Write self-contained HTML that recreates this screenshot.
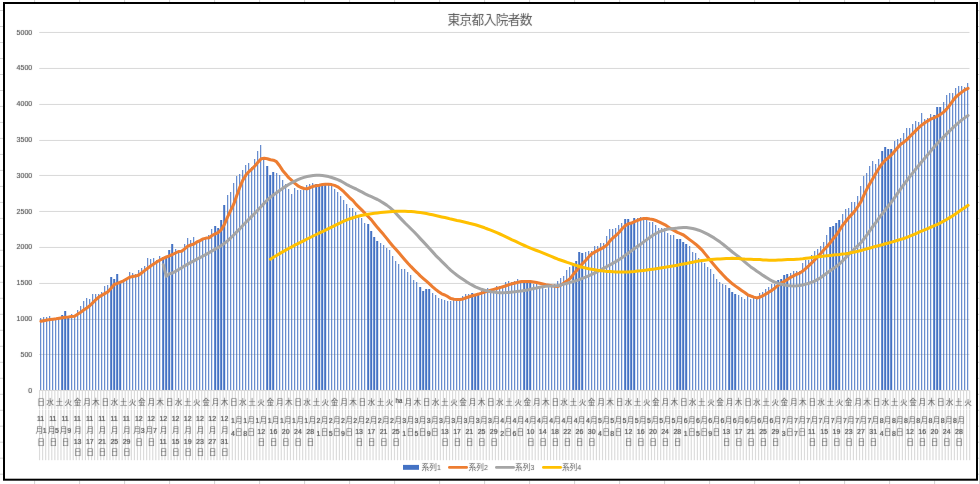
<!DOCTYPE html>
<html lang="ja"><head><meta charset="utf-8"><title>東京都入院者数</title>
<style>html,body{margin:0;padding:0;background:#fff;overflow:hidden}svg{display:block}text{font-family:"Liberation Sans","Noto Sans CJK JP",sans-serif}</style>
</head><body>
<svg width="980" height="484" viewBox="0 0 980 484" role="img" aria-label="東京都入院者数">
<desc>東京都入院者数 — 2020年11月1日〜2021年8月31日。凡例: 系列1 (棒), 系列2, 系列3, 系列4 (折れ線)。縦軸 0〜5000。</desc>
<defs><filter id="bl" filterUnits="userSpaceOnUse" x="0" y="0" width="980" height="484"><feConvolveMatrix order="3" kernelMatrix="0.0025 0.0450 0.0025 0.0450 0.8100 0.0450 0.0025 0.0450 0.0025" edgeMode="duplicate" preserveAlpha="false"/></filter></defs>
<g fill="#d2d2d2"><rect x="34.1" y="0" width="1" height="2.3"/><rect x="34.1" y="480.5" width="1" height="3.5"/><rect x="79.1" y="0" width="1" height="2.3"/><rect x="79.1" y="480.5" width="1" height="3.5"/><rect x="124.1" y="0" width="1" height="2.3"/><rect x="124.1" y="480.5" width="1" height="3.5"/><rect x="169.1" y="0" width="1" height="2.3"/><rect x="169.1" y="480.5" width="1" height="3.5"/><rect x="214.1" y="0" width="1" height="2.3"/><rect x="214.1" y="480.5" width="1" height="3.5"/><rect x="259.1" y="0" width="1" height="2.3"/><rect x="259.1" y="480.5" width="1" height="3.5"/><rect x="304.1" y="0" width="1" height="2.3"/><rect x="304.1" y="480.5" width="1" height="3.5"/><rect x="349.1" y="0" width="1" height="2.3"/><rect x="349.1" y="480.5" width="1" height="3.5"/><rect x="394.1" y="0" width="1" height="2.3"/><rect x="394.1" y="480.5" width="1" height="3.5"/><rect x="439.1" y="0" width="1" height="2.3"/><rect x="439.1" y="480.5" width="1" height="3.5"/><rect x="484.1" y="0" width="1" height="2.3"/><rect x="484.1" y="480.5" width="1" height="3.5"/><rect x="529.1" y="0" width="1" height="2.3"/><rect x="529.1" y="480.5" width="1" height="3.5"/><rect x="574.1" y="0" width="1" height="2.3"/><rect x="574.1" y="480.5" width="1" height="3.5"/><rect x="619.1" y="0" width="1" height="2.3"/><rect x="619.1" y="480.5" width="1" height="3.5"/><rect x="664.1" y="0" width="1" height="2.3"/><rect x="664.1" y="480.5" width="1" height="3.5"/><rect x="709.1" y="0" width="1" height="2.3"/><rect x="709.1" y="480.5" width="1" height="3.5"/><rect x="754.1" y="0" width="1" height="2.3"/><rect x="754.1" y="480.5" width="1" height="3.5"/><rect x="799.1" y="0" width="1" height="2.3"/><rect x="799.1" y="480.5" width="1" height="3.5"/><rect x="844.1" y="0" width="1" height="2.3"/><rect x="844.1" y="480.5" width="1" height="3.5"/><rect x="889.1" y="0" width="1" height="2.3"/><rect x="889.1" y="480.5" width="1" height="3.5"/><rect x="934.1" y="0" width="1" height="2.3"/><rect x="934.1" y="480.5" width="1" height="3.5"/><rect x="979.1" y="0" width="1" height="2.3"/><rect x="979.1" y="480.5" width="1" height="3.5"/><rect x="0" y="10.0" width="3.2" height="1"/><rect x="977.8" y="10.0" width="2.2" height="1"/><rect x="0" y="26.0" width="3.2" height="1"/><rect x="977.8" y="26.0" width="2.2" height="1"/><rect x="0" y="42.0" width="3.2" height="1"/><rect x="977.8" y="42.0" width="2.2" height="1"/><rect x="0" y="58.0" width="3.2" height="1"/><rect x="977.8" y="58.0" width="2.2" height="1"/><rect x="0" y="74.0" width="3.2" height="1"/><rect x="977.8" y="74.0" width="2.2" height="1"/><rect x="0" y="90.0" width="3.2" height="1"/><rect x="977.8" y="90.0" width="2.2" height="1"/><rect x="0" y="105.9" width="3.2" height="1"/><rect x="977.8" y="105.9" width="2.2" height="1"/><rect x="0" y="121.9" width="3.2" height="1"/><rect x="977.8" y="121.9" width="2.2" height="1"/><rect x="0" y="137.9" width="3.2" height="1"/><rect x="977.8" y="137.9" width="2.2" height="1"/><rect x="0" y="153.9" width="3.2" height="1"/><rect x="977.8" y="153.9" width="2.2" height="1"/><rect x="0" y="169.9" width="3.2" height="1"/><rect x="977.8" y="169.9" width="2.2" height="1"/><rect x="0" y="185.9" width="3.2" height="1"/><rect x="977.8" y="185.9" width="2.2" height="1"/><rect x="0" y="201.9" width="3.2" height="1"/><rect x="977.8" y="201.9" width="2.2" height="1"/><rect x="0" y="217.9" width="3.2" height="1"/><rect x="977.8" y="217.9" width="2.2" height="1"/><rect x="0" y="233.9" width="3.2" height="1"/><rect x="977.8" y="233.9" width="2.2" height="1"/><rect x="0" y="249.8" width="3.2" height="1"/><rect x="977.8" y="249.8" width="2.2" height="1"/><rect x="0" y="265.8" width="3.2" height="1"/><rect x="977.8" y="265.8" width="2.2" height="1"/><rect x="0" y="281.8" width="3.2" height="1"/><rect x="977.8" y="281.8" width="2.2" height="1"/><rect x="0" y="297.8" width="3.2" height="1"/><rect x="977.8" y="297.8" width="2.2" height="1"/><rect x="0" y="313.8" width="3.2" height="1"/><rect x="977.8" y="313.8" width="2.2" height="1"/><rect x="0" y="329.8" width="3.2" height="1"/><rect x="977.8" y="329.8" width="2.2" height="1"/><rect x="0" y="345.8" width="3.2" height="1"/><rect x="977.8" y="345.8" width="2.2" height="1"/><rect x="0" y="361.8" width="3.2" height="1"/><rect x="977.8" y="361.8" width="2.2" height="1"/><rect x="0" y="377.8" width="3.2" height="1"/><rect x="977.8" y="377.8" width="2.2" height="1"/><rect x="0" y="393.8" width="3.2" height="1"/><rect x="977.8" y="393.8" width="2.2" height="1"/><rect x="0" y="409.8" width="3.2" height="1"/><rect x="977.8" y="409.8" width="2.2" height="1"/><rect x="0" y="425.7" width="3.2" height="1"/><rect x="977.8" y="425.7" width="2.2" height="1"/><rect x="0" y="441.7" width="3.2" height="1"/><rect x="977.8" y="441.7" width="2.2" height="1"/><rect x="0" y="457.7" width="3.2" height="1"/><rect x="977.8" y="457.7" width="2.2" height="1"/><rect x="0" y="473.7" width="3.2" height="1"/><rect x="977.8" y="473.7" width="2.2" height="1"/><rect x="979.1" y="0" width="1" height="484"/></g>
<rect x="4" y="3" width="973" height="476.7" fill="#fff" stroke="#000" stroke-width="2"/>
<g fill="#d9d9d9"><rect x="39.2" y="31.95" width="930.3" height="1"/><rect x="39.2" y="67.95" width="930.3" height="1"/><rect x="39.2" y="103.95" width="930.3" height="1"/><rect x="39.2" y="139.95" width="930.3" height="1"/><rect x="39.2" y="174.95" width="930.3" height="1"/><rect x="39.2" y="210.95" width="930.3" height="1"/><rect x="39.2" y="246.95" width="930.3" height="1"/><rect x="39.2" y="282.95" width="930.3" height="1"/><rect x="39.2" y="318.95" width="930.3" height="1"/><rect x="39.2" y="353.95" width="930.3" height="1"/></g>
<g fill="#dbdbdb"><rect x="38.97" y="390.6" width="1.16" height="69.6"/><rect x="42.03" y="390.6" width="1.16" height="69.6"/><rect x="45.09" y="390.6" width="1.16" height="69.6"/><rect x="48.15" y="390.6" width="1.16" height="69.6"/><rect x="51.21" y="390.6" width="1.16" height="69.6"/><rect x="54.27" y="390.6" width="1.16" height="69.6"/><rect x="57.33" y="390.6" width="1.16" height="69.6"/><rect x="60.39" y="390.6" width="1.16" height="69.6"/><rect x="63.45" y="390.6" width="1.16" height="69.6"/><rect x="66.51" y="390.6" width="1.16" height="69.6"/><rect x="69.57" y="390.6" width="1.16" height="69.6"/><rect x="72.63" y="390.6" width="1.16" height="69.6"/><rect x="75.69" y="390.6" width="1.16" height="69.6"/><rect x="78.75" y="390.6" width="1.16" height="69.6"/><rect x="81.81" y="390.6" width="1.16" height="69.6"/><rect x="84.86" y="390.6" width="1.16" height="69.6"/><rect x="87.92" y="390.6" width="1.16" height="69.6"/><rect x="90.98" y="390.6" width="1.16" height="69.6"/><rect x="94.04" y="390.6" width="1.16" height="69.6"/><rect x="97.10" y="390.6" width="1.16" height="69.6"/><rect x="100.16" y="390.6" width="1.16" height="69.6"/><rect x="103.22" y="390.6" width="1.16" height="69.6"/><rect x="106.28" y="390.6" width="1.16" height="69.6"/><rect x="109.34" y="390.6" width="1.16" height="69.6"/><rect x="112.40" y="390.6" width="1.16" height="69.6"/><rect x="115.46" y="390.6" width="1.16" height="69.6"/><rect x="118.52" y="390.6" width="1.16" height="69.6"/><rect x="121.58" y="390.6" width="1.16" height="69.6"/><rect x="124.64" y="390.6" width="1.16" height="69.6"/><rect x="127.70" y="390.6" width="1.16" height="69.6"/><rect x="130.76" y="390.6" width="1.16" height="69.6"/><rect x="133.82" y="390.6" width="1.16" height="69.6"/><rect x="136.88" y="390.6" width="1.16" height="69.6"/><rect x="139.94" y="390.6" width="1.16" height="69.6"/><rect x="143.00" y="390.6" width="1.16" height="69.6"/><rect x="146.06" y="390.6" width="1.16" height="69.6"/><rect x="149.12" y="390.6" width="1.16" height="69.6"/><rect x="152.18" y="390.6" width="1.16" height="69.6"/><rect x="155.24" y="390.6" width="1.16" height="69.6"/><rect x="158.30" y="390.6" width="1.16" height="69.6"/><rect x="161.36" y="390.6" width="1.16" height="69.6"/><rect x="164.42" y="390.6" width="1.16" height="69.6"/><rect x="167.48" y="390.6" width="1.16" height="69.6"/><rect x="170.53" y="390.6" width="1.16" height="69.6"/><rect x="173.59" y="390.6" width="1.16" height="69.6"/><rect x="176.65" y="390.6" width="1.16" height="69.6"/><rect x="179.71" y="390.6" width="1.16" height="69.6"/><rect x="182.77" y="390.6" width="1.16" height="69.6"/><rect x="185.83" y="390.6" width="1.16" height="69.6"/><rect x="188.89" y="390.6" width="1.16" height="69.6"/><rect x="191.95" y="390.6" width="1.16" height="69.6"/><rect x="195.01" y="390.6" width="1.16" height="69.6"/><rect x="198.07" y="390.6" width="1.16" height="69.6"/><rect x="201.13" y="390.6" width="1.16" height="69.6"/><rect x="204.19" y="390.6" width="1.16" height="69.6"/><rect x="207.25" y="390.6" width="1.16" height="69.6"/><rect x="210.31" y="390.6" width="1.16" height="69.6"/><rect x="213.37" y="390.6" width="1.16" height="69.6"/><rect x="216.43" y="390.6" width="1.16" height="69.6"/><rect x="219.49" y="390.6" width="1.16" height="69.6"/><rect x="222.55" y="390.6" width="1.16" height="69.6"/><rect x="225.61" y="390.6" width="1.16" height="69.6"/><rect x="228.67" y="390.6" width="1.16" height="69.6"/><rect x="231.73" y="390.6" width="1.16" height="69.6"/><rect x="234.79" y="390.6" width="1.16" height="69.6"/><rect x="237.85" y="390.6" width="1.16" height="69.6"/><rect x="240.91" y="390.6" width="1.16" height="69.6"/><rect x="243.97" y="390.6" width="1.16" height="69.6"/><rect x="247.03" y="390.6" width="1.16" height="69.6"/><rect x="250.09" y="390.6" width="1.16" height="69.6"/><rect x="253.15" y="390.6" width="1.16" height="69.6"/><rect x="256.21" y="390.6" width="1.16" height="69.6"/><rect x="259.26" y="390.6" width="1.16" height="69.6"/><rect x="262.32" y="390.6" width="1.16" height="69.6"/><rect x="265.38" y="390.6" width="1.16" height="69.6"/><rect x="268.44" y="390.6" width="1.16" height="69.6"/><rect x="271.50" y="390.6" width="1.16" height="69.6"/><rect x="274.56" y="390.6" width="1.16" height="69.6"/><rect x="277.62" y="390.6" width="1.16" height="69.6"/><rect x="280.68" y="390.6" width="1.16" height="69.6"/><rect x="283.74" y="390.6" width="1.16" height="69.6"/><rect x="286.80" y="390.6" width="1.16" height="69.6"/><rect x="289.86" y="390.6" width="1.16" height="69.6"/><rect x="292.92" y="390.6" width="1.16" height="69.6"/><rect x="295.98" y="390.6" width="1.16" height="69.6"/><rect x="299.04" y="390.6" width="1.16" height="69.6"/><rect x="302.10" y="390.6" width="1.16" height="69.6"/><rect x="305.16" y="390.6" width="1.16" height="69.6"/><rect x="308.22" y="390.6" width="1.16" height="69.6"/><rect x="311.28" y="390.6" width="1.16" height="69.6"/><rect x="314.34" y="390.6" width="1.16" height="69.6"/><rect x="317.40" y="390.6" width="1.16" height="69.6"/><rect x="320.46" y="390.6" width="1.16" height="69.6"/><rect x="323.52" y="390.6" width="1.16" height="69.6"/><rect x="326.58" y="390.6" width="1.16" height="69.6"/><rect x="329.64" y="390.6" width="1.16" height="69.6"/><rect x="332.70" y="390.6" width="1.16" height="69.6"/><rect x="335.76" y="390.6" width="1.16" height="69.6"/><rect x="338.82" y="390.6" width="1.16" height="69.6"/><rect x="341.88" y="390.6" width="1.16" height="69.6"/><rect x="344.94" y="390.6" width="1.16" height="69.6"/><rect x="347.99" y="390.6" width="1.16" height="69.6"/><rect x="351.05" y="390.6" width="1.16" height="69.6"/><rect x="354.11" y="390.6" width="1.16" height="69.6"/><rect x="357.17" y="390.6" width="1.16" height="69.6"/><rect x="360.23" y="390.6" width="1.16" height="69.6"/><rect x="363.29" y="390.6" width="1.16" height="69.6"/><rect x="366.35" y="390.6" width="1.16" height="69.6"/><rect x="369.41" y="390.6" width="1.16" height="69.6"/><rect x="372.47" y="390.6" width="1.16" height="69.6"/><rect x="375.53" y="390.6" width="1.16" height="69.6"/><rect x="378.59" y="390.6" width="1.16" height="69.6"/><rect x="381.65" y="390.6" width="1.16" height="69.6"/><rect x="384.71" y="390.6" width="1.16" height="69.6"/><rect x="387.77" y="390.6" width="1.16" height="69.6"/><rect x="390.83" y="390.6" width="1.16" height="69.6"/><rect x="393.89" y="390.6" width="1.16" height="69.6"/><rect x="396.95" y="390.6" width="1.16" height="69.6"/><rect x="400.01" y="390.6" width="1.16" height="69.6"/><rect x="403.07" y="390.6" width="1.16" height="69.6"/><rect x="406.13" y="390.6" width="1.16" height="69.6"/><rect x="409.19" y="390.6" width="1.16" height="69.6"/><rect x="412.25" y="390.6" width="1.16" height="69.6"/><rect x="415.31" y="390.6" width="1.16" height="69.6"/><rect x="418.37" y="390.6" width="1.16" height="69.6"/><rect x="421.43" y="390.6" width="1.16" height="69.6"/><rect x="424.49" y="390.6" width="1.16" height="69.6"/><rect x="427.55" y="390.6" width="1.16" height="69.6"/><rect x="430.61" y="390.6" width="1.16" height="69.6"/><rect x="433.66" y="390.6" width="1.16" height="69.6"/><rect x="436.72" y="390.6" width="1.16" height="69.6"/><rect x="439.78" y="390.6" width="1.16" height="69.6"/><rect x="442.84" y="390.6" width="1.16" height="69.6"/><rect x="445.90" y="390.6" width="1.16" height="69.6"/><rect x="448.96" y="390.6" width="1.16" height="69.6"/><rect x="452.02" y="390.6" width="1.16" height="69.6"/><rect x="455.08" y="390.6" width="1.16" height="69.6"/><rect x="458.14" y="390.6" width="1.16" height="69.6"/><rect x="461.20" y="390.6" width="1.16" height="69.6"/><rect x="464.26" y="390.6" width="1.16" height="69.6"/><rect x="467.32" y="390.6" width="1.16" height="69.6"/><rect x="470.38" y="390.6" width="1.16" height="69.6"/><rect x="473.44" y="390.6" width="1.16" height="69.6"/><rect x="476.50" y="390.6" width="1.16" height="69.6"/><rect x="479.56" y="390.6" width="1.16" height="69.6"/><rect x="482.62" y="390.6" width="1.16" height="69.6"/><rect x="485.68" y="390.6" width="1.16" height="69.6"/><rect x="488.74" y="390.6" width="1.16" height="69.6"/><rect x="491.80" y="390.6" width="1.16" height="69.6"/><rect x="494.86" y="390.6" width="1.16" height="69.6"/><rect x="497.92" y="390.6" width="1.16" height="69.6"/><rect x="500.98" y="390.6" width="1.16" height="69.6"/><rect x="504.04" y="390.6" width="1.16" height="69.6"/><rect x="507.10" y="390.6" width="1.16" height="69.6"/><rect x="510.16" y="390.6" width="1.16" height="69.6"/><rect x="513.22" y="390.6" width="1.16" height="69.6"/><rect x="516.28" y="390.6" width="1.16" height="69.6"/><rect x="519.34" y="390.6" width="1.16" height="69.6"/><rect x="522.39" y="390.6" width="1.16" height="69.6"/><rect x="525.45" y="390.6" width="1.16" height="69.6"/><rect x="528.51" y="390.6" width="1.16" height="69.6"/><rect x="531.57" y="390.6" width="1.16" height="69.6"/><rect x="534.63" y="390.6" width="1.16" height="69.6"/><rect x="537.69" y="390.6" width="1.16" height="69.6"/><rect x="540.75" y="390.6" width="1.16" height="69.6"/><rect x="543.81" y="390.6" width="1.16" height="69.6"/><rect x="546.87" y="390.6" width="1.16" height="69.6"/><rect x="549.93" y="390.6" width="1.16" height="69.6"/><rect x="552.99" y="390.6" width="1.16" height="69.6"/><rect x="556.05" y="390.6" width="1.16" height="69.6"/><rect x="559.11" y="390.6" width="1.16" height="69.6"/><rect x="562.17" y="390.6" width="1.16" height="69.6"/><rect x="565.23" y="390.6" width="1.16" height="69.6"/><rect x="568.29" y="390.6" width="1.16" height="69.6"/><rect x="571.35" y="390.6" width="1.16" height="69.6"/><rect x="574.41" y="390.6" width="1.16" height="69.6"/><rect x="577.47" y="390.6" width="1.16" height="69.6"/><rect x="580.53" y="390.6" width="1.16" height="69.6"/><rect x="583.59" y="390.6" width="1.16" height="69.6"/><rect x="586.65" y="390.6" width="1.16" height="69.6"/><rect x="589.71" y="390.6" width="1.16" height="69.6"/><rect x="592.77" y="390.6" width="1.16" height="69.6"/><rect x="595.83" y="390.6" width="1.16" height="69.6"/><rect x="598.89" y="390.6" width="1.16" height="69.6"/><rect x="601.95" y="390.6" width="1.16" height="69.6"/><rect x="605.01" y="390.6" width="1.16" height="69.6"/><rect x="608.06" y="390.6" width="1.16" height="69.6"/><rect x="611.12" y="390.6" width="1.16" height="69.6"/><rect x="614.18" y="390.6" width="1.16" height="69.6"/><rect x="617.24" y="390.6" width="1.16" height="69.6"/><rect x="620.30" y="390.6" width="1.16" height="69.6"/><rect x="623.36" y="390.6" width="1.16" height="69.6"/><rect x="626.42" y="390.6" width="1.16" height="69.6"/><rect x="629.48" y="390.6" width="1.16" height="69.6"/><rect x="632.54" y="390.6" width="1.16" height="69.6"/><rect x="635.60" y="390.6" width="1.16" height="69.6"/><rect x="638.66" y="390.6" width="1.16" height="69.6"/><rect x="641.72" y="390.6" width="1.16" height="69.6"/><rect x="644.78" y="390.6" width="1.16" height="69.6"/><rect x="647.84" y="390.6" width="1.16" height="69.6"/><rect x="650.90" y="390.6" width="1.16" height="69.6"/><rect x="653.96" y="390.6" width="1.16" height="69.6"/><rect x="657.02" y="390.6" width="1.16" height="69.6"/><rect x="660.08" y="390.6" width="1.16" height="69.6"/><rect x="663.14" y="390.6" width="1.16" height="69.6"/><rect x="666.20" y="390.6" width="1.16" height="69.6"/><rect x="669.26" y="390.6" width="1.16" height="69.6"/><rect x="672.32" y="390.6" width="1.16" height="69.6"/><rect x="675.38" y="390.6" width="1.16" height="69.6"/><rect x="678.44" y="390.6" width="1.16" height="69.6"/><rect x="681.50" y="390.6" width="1.16" height="69.6"/><rect x="684.56" y="390.6" width="1.16" height="69.6"/><rect x="687.62" y="390.6" width="1.16" height="69.6"/><rect x="690.68" y="390.6" width="1.16" height="69.6"/><rect x="693.74" y="390.6" width="1.16" height="69.6"/><rect x="696.79" y="390.6" width="1.16" height="69.6"/><rect x="699.85" y="390.6" width="1.16" height="69.6"/><rect x="702.91" y="390.6" width="1.16" height="69.6"/><rect x="705.97" y="390.6" width="1.16" height="69.6"/><rect x="709.03" y="390.6" width="1.16" height="69.6"/><rect x="712.09" y="390.6" width="1.16" height="69.6"/><rect x="715.15" y="390.6" width="1.16" height="69.6"/><rect x="718.21" y="390.6" width="1.16" height="69.6"/><rect x="721.27" y="390.6" width="1.16" height="69.6"/><rect x="724.33" y="390.6" width="1.16" height="69.6"/><rect x="727.39" y="390.6" width="1.16" height="69.6"/><rect x="730.45" y="390.6" width="1.16" height="69.6"/><rect x="733.51" y="390.6" width="1.16" height="69.6"/><rect x="736.57" y="390.6" width="1.16" height="69.6"/><rect x="739.63" y="390.6" width="1.16" height="69.6"/><rect x="742.69" y="390.6" width="1.16" height="69.6"/><rect x="745.75" y="390.6" width="1.16" height="69.6"/><rect x="748.81" y="390.6" width="1.16" height="69.6"/><rect x="751.87" y="390.6" width="1.16" height="69.6"/><rect x="754.93" y="390.6" width="1.16" height="69.6"/><rect x="757.99" y="390.6" width="1.16" height="69.6"/><rect x="761.05" y="390.6" width="1.16" height="69.6"/><rect x="764.11" y="390.6" width="1.16" height="69.6"/><rect x="767.17" y="390.6" width="1.16" height="69.6"/><rect x="770.23" y="390.6" width="1.16" height="69.6"/><rect x="773.29" y="390.6" width="1.16" height="69.6"/><rect x="776.35" y="390.6" width="1.16" height="69.6"/><rect x="779.41" y="390.6" width="1.16" height="69.6"/><rect x="782.46" y="390.6" width="1.16" height="69.6"/><rect x="785.52" y="390.6" width="1.16" height="69.6"/><rect x="788.58" y="390.6" width="1.16" height="69.6"/><rect x="791.64" y="390.6" width="1.16" height="69.6"/><rect x="794.70" y="390.6" width="1.16" height="69.6"/><rect x="797.76" y="390.6" width="1.16" height="69.6"/><rect x="800.82" y="390.6" width="1.16" height="69.6"/><rect x="803.88" y="390.6" width="1.16" height="69.6"/><rect x="806.94" y="390.6" width="1.16" height="69.6"/><rect x="810.00" y="390.6" width="1.16" height="69.6"/><rect x="813.06" y="390.6" width="1.16" height="69.6"/><rect x="816.12" y="390.6" width="1.16" height="69.6"/><rect x="819.18" y="390.6" width="1.16" height="69.6"/><rect x="822.24" y="390.6" width="1.16" height="69.6"/><rect x="825.30" y="390.6" width="1.16" height="69.6"/><rect x="828.36" y="390.6" width="1.16" height="69.6"/><rect x="831.42" y="390.6" width="1.16" height="69.6"/><rect x="834.48" y="390.6" width="1.16" height="69.6"/><rect x="837.54" y="390.6" width="1.16" height="69.6"/><rect x="840.60" y="390.6" width="1.16" height="69.6"/><rect x="843.66" y="390.6" width="1.16" height="69.6"/><rect x="846.72" y="390.6" width="1.16" height="69.6"/><rect x="849.78" y="390.6" width="1.16" height="69.6"/><rect x="852.84" y="390.6" width="1.16" height="69.6"/><rect x="855.90" y="390.6" width="1.16" height="69.6"/><rect x="858.96" y="390.6" width="1.16" height="69.6"/><rect x="862.02" y="390.6" width="1.16" height="69.6"/><rect x="865.08" y="390.6" width="1.16" height="69.6"/><rect x="868.14" y="390.6" width="1.16" height="69.6"/><rect x="871.19" y="390.6" width="1.16" height="69.6"/><rect x="874.25" y="390.6" width="1.16" height="69.6"/><rect x="877.31" y="390.6" width="1.16" height="69.6"/><rect x="880.37" y="390.6" width="1.16" height="69.6"/><rect x="883.43" y="390.6" width="1.16" height="69.6"/><rect x="886.49" y="390.6" width="1.16" height="69.6"/><rect x="889.55" y="390.6" width="1.16" height="69.6"/><rect x="892.61" y="390.6" width="1.16" height="69.6"/><rect x="895.67" y="390.6" width="1.16" height="69.6"/><rect x="898.73" y="390.6" width="1.16" height="69.6"/><rect x="901.79" y="390.6" width="1.16" height="69.6"/><rect x="904.85" y="390.6" width="1.16" height="69.6"/><rect x="907.91" y="390.6" width="1.16" height="69.6"/><rect x="910.97" y="390.6" width="1.16" height="69.6"/><rect x="914.03" y="390.6" width="1.16" height="69.6"/><rect x="917.09" y="390.6" width="1.16" height="69.6"/><rect x="920.15" y="390.6" width="1.16" height="69.6"/><rect x="923.21" y="390.6" width="1.16" height="69.6"/><rect x="926.27" y="390.6" width="1.16" height="69.6"/><rect x="929.33" y="390.6" width="1.16" height="69.6"/><rect x="932.39" y="390.6" width="1.16" height="69.6"/><rect x="935.45" y="390.6" width="1.16" height="69.6"/><rect x="938.51" y="390.6" width="1.16" height="69.6"/><rect x="941.57" y="390.6" width="1.16" height="69.6"/><rect x="944.63" y="390.6" width="1.16" height="69.6"/><rect x="947.69" y="390.6" width="1.16" height="69.6"/><rect x="950.75" y="390.6" width="1.16" height="69.6"/><rect x="953.81" y="390.6" width="1.16" height="69.6"/><rect x="956.86" y="390.6" width="1.16" height="69.6"/><rect x="959.92" y="390.6" width="1.16" height="69.6"/><rect x="962.98" y="390.6" width="1.16" height="69.6"/><rect x="966.04" y="390.6" width="1.16" height="69.6"/><rect x="969.10" y="390.6" width="1.16" height="69.6"/></g>
<rect x="39" y="408.9" width="931" height="0.9" fill="#fff" opacity="0.6"/>
<g fill="#4472c4"><rect x="40.2" y="318" width="1" height="72"/><rect x="43.2" y="317" width="1" height="73"/><rect x="46.2" y="317" width="1" height="73"/><rect x="49.2" y="316" width="1" height="74"/><rect x="52.2" y="319" width="1" height="71"/><rect x="55.2" y="319" width="1" height="71"/><rect x="58.2" y="319" width="1" height="71"/><rect x="61.2" y="315" width="2" height="75"/><rect x="64.2" y="311" width="2" height="79"/><rect x="67.2" y="317" width="2" height="73"/><rect x="71.2" y="314" width="1" height="76"/><rect x="74.2" y="316" width="1" height="74"/><rect x="77.2" y="310" width="1" height="80"/><rect x="80.2" y="306" width="1" height="84"/><rect x="83.2" y="301" width="1" height="89"/><rect x="86.2" y="298" width="1" height="92"/><rect x="89.2" y="299" width="1" height="91"/><rect x="92.2" y="294" width="1" height="96"/><rect x="95.2" y="294" width="1" height="96"/><rect x="98.2" y="294" width="1" height="96"/><rect x="101.2" y="292" width="1" height="98"/><rect x="104.2" y="286" width="1" height="104"/><rect x="107.2" y="285" width="1" height="105"/><rect x="110.2" y="277" width="2" height="113"/><rect x="113.2" y="279" width="2" height="111"/><rect x="116.2" y="274" width="2" height="116"/><rect x="119.2" y="282" width="2" height="108"/><rect x="123.2" y="281" width="1" height="109"/><rect x="126.2" y="279" width="1" height="111"/><rect x="129.2" y="272" width="1" height="118"/><rect x="132.2" y="273" width="1" height="117"/><rect x="135.2" y="274" width="1" height="116"/><rect x="138.2" y="270" width="1" height="120"/><rect x="141.2" y="268" width="1" height="122"/><rect x="144.2" y="266" width="1" height="124"/><rect x="147.2" y="258" width="1" height="132"/><rect x="150.2" y="259" width="1" height="131"/><rect x="153.2" y="258" width="1" height="132"/><rect x="156.2" y="260" width="1" height="130"/><rect x="159.2" y="256" width="1" height="134"/><rect x="162.2" y="257" width="2" height="133"/><rect x="165.2" y="257" width="2" height="133"/><rect x="168.2" y="250" width="2" height="140"/><rect x="171.2" y="244" width="2" height="146"/><rect x="175.2" y="249" width="1" height="141"/><rect x="178.2" y="252" width="1" height="138"/><rect x="181.2" y="251" width="1" height="139"/><rect x="184.2" y="244" width="1" height="146"/><rect x="187.2" y="238" width="1" height="152"/><rect x="190.2" y="240" width="1" height="150"/><rect x="193.2" y="237" width="1" height="153"/><rect x="196.2" y="242" width="1" height="148"/><rect x="199.2" y="241" width="1" height="149"/><rect x="202.2" y="239" width="1" height="151"/><rect x="205.2" y="238" width="1" height="152"/><rect x="208.2" y="235" width="1" height="155"/><rect x="211.2" y="229" width="1" height="161"/><rect x="214.2" y="226" width="2" height="164"/><rect x="217.2" y="228" width="2" height="162"/><rect x="220.2" y="220" width="2" height="170"/><rect x="223.2" y="205" width="2" height="185"/><rect x="227.2" y="195" width="1" height="195"/><rect x="230.2" y="192" width="1" height="198"/><rect x="233.2" y="183" width="1" height="207"/><rect x="236.2" y="176" width="1" height="214"/><rect x="239.2" y="174" width="1" height="216"/><rect x="242.2" y="170" width="1" height="220"/><rect x="245.2" y="165" width="1" height="225"/><rect x="248.2" y="163" width="1" height="227"/><rect x="251.2" y="167" width="1" height="223"/><rect x="254.2" y="159" width="1" height="231"/><rect x="257.2" y="151" width="1" height="239"/><rect x="260.2" y="145" width="1" height="245"/><rect x="263.2" y="159" width="1" height="231"/><rect x="266.2" y="166" width="2" height="224"/><rect x="269.2" y="175" width="2" height="215"/><rect x="272.2" y="172" width="2" height="218"/><rect x="276.2" y="173" width="1" height="217"/><rect x="279.2" y="175" width="1" height="215"/><rect x="282.2" y="180" width="1" height="210"/><rect x="285.2" y="184" width="1" height="206"/><rect x="288.2" y="189" width="1" height="201"/><rect x="291.2" y="194" width="1" height="196"/><rect x="294.2" y="188" width="1" height="202"/><rect x="297.2" y="190" width="1" height="200"/><rect x="300.2" y="190" width="1" height="200"/><rect x="303.2" y="190" width="1" height="200"/><rect x="306.2" y="185" width="1" height="205"/><rect x="309.2" y="184" width="1" height="206"/><rect x="312.2" y="183" width="1" height="207"/><rect x="315.2" y="184" width="2" height="206"/><rect x="318.2" y="185" width="2" height="205"/><rect x="321.2" y="185" width="2" height="205"/><rect x="324.2" y="184" width="2" height="206"/><rect x="328.2" y="185" width="1" height="205"/><rect x="331.2" y="185" width="1" height="205"/><rect x="334.2" y="189" width="1" height="201"/><rect x="337.2" y="192" width="1" height="198"/><rect x="340.2" y="196" width="1" height="194"/><rect x="343.2" y="200" width="1" height="190"/><rect x="346.2" y="204" width="1" height="186"/><rect x="349.2" y="208" width="1" height="182"/><rect x="352.2" y="208" width="1" height="182"/><rect x="355.2" y="212" width="1" height="178"/><rect x="358.2" y="217" width="1" height="173"/><rect x="361.2" y="218" width="1" height="172"/><rect x="364.2" y="223" width="1" height="167"/><rect x="367.2" y="224" width="2" height="166"/><rect x="370.2" y="231" width="2" height="159"/><rect x="373.2" y="237" width="2" height="153"/><rect x="376.2" y="241" width="2" height="149"/><rect x="380.2" y="243" width="1" height="147"/><rect x="383.2" y="245" width="1" height="145"/><rect x="386.2" y="248" width="1" height="142"/><rect x="389.2" y="250" width="1" height="140"/><rect x="392.2" y="256" width="1" height="134"/><rect x="395.2" y="261" width="1" height="129"/><rect x="398.2" y="264" width="1" height="126"/><rect x="401.2" y="269" width="1" height="121"/><rect x="404.2" y="269" width="1" height="121"/><rect x="407.2" y="272" width="1" height="118"/><rect x="410.2" y="275" width="1" height="115"/><rect x="413.2" y="280" width="1" height="110"/><rect x="416.2" y="282" width="1" height="108"/><rect x="419.2" y="287" width="2" height="103"/><rect x="422.2" y="291" width="2" height="99"/><rect x="425.2" y="289" width="2" height="101"/><rect x="428.2" y="289" width="2" height="101"/><rect x="432.2" y="293" width="1" height="97"/><rect x="435.2" y="295" width="1" height="95"/><rect x="438.2" y="298" width="1" height="92"/><rect x="441.2" y="299" width="1" height="91"/><rect x="444.2" y="300" width="1" height="90"/><rect x="447.2" y="301" width="1" height="89"/><rect x="450.2" y="301" width="1" height="89"/><rect x="453.2" y="299" width="1" height="91"/><rect x="456.2" y="300" width="1" height="90"/><rect x="459.2" y="300" width="1" height="90"/><rect x="462.2" y="296" width="1" height="94"/><rect x="465.2" y="294" width="1" height="96"/><rect x="468.2" y="294" width="1" height="96"/><rect x="471.2" y="293" width="2" height="97"/><rect x="474.2" y="295" width="2" height="95"/><rect x="477.2" y="294" width="2" height="96"/><rect x="481.2" y="291" width="1" height="99"/><rect x="484.2" y="292" width="1" height="98"/><rect x="487.2" y="288" width="1" height="102"/><rect x="490.2" y="289" width="1" height="101"/><rect x="493.2" y="288" width="1" height="102"/><rect x="496.2" y="286" width="1" height="104"/><rect x="499.2" y="286" width="1" height="104"/><rect x="502.2" y="287" width="1" height="103"/><rect x="505.2" y="282" width="1" height="108"/><rect x="508.2" y="281" width="1" height="109"/><rect x="511.2" y="282" width="1" height="108"/><rect x="514.2" y="281" width="1" height="109"/><rect x="517.2" y="279" width="1" height="111"/><rect x="520.2" y="282" width="1" height="108"/><rect x="523.2" y="282" width="2" height="108"/><rect x="526.2" y="282" width="2" height="108"/><rect x="529.2" y="282" width="2" height="108"/><rect x="533.2" y="284" width="1" height="106"/><rect x="536.2" y="284" width="1" height="106"/><rect x="539.2" y="288" width="1" height="102"/><rect x="542.2" y="288" width="1" height="102"/><rect x="545.2" y="289" width="1" height="101"/><rect x="548.2" y="285" width="1" height="105"/><rect x="551.2" y="286" width="1" height="104"/><rect x="554.2" y="284" width="1" height="106"/><rect x="557.2" y="281" width="1" height="109"/><rect x="560.2" y="278" width="1" height="112"/><rect x="563.2" y="276" width="1" height="114"/><rect x="566.2" y="270" width="1" height="120"/><rect x="569.2" y="267" width="1" height="123"/><rect x="572.2" y="263" width="2" height="127"/><rect x="575.2" y="261" width="2" height="129"/><rect x="578.2" y="252" width="2" height="138"/><rect x="581.2" y="253" width="2" height="137"/><rect x="585.2" y="252" width="1" height="138"/><rect x="588.2" y="251" width="1" height="139"/><rect x="591.2" y="251" width="1" height="139"/><rect x="594.2" y="246" width="1" height="144"/><rect x="597.2" y="246" width="1" height="144"/><rect x="600.2" y="243" width="1" height="147"/><rect x="603.2" y="243" width="1" height="147"/><rect x="606.2" y="236" width="1" height="154"/><rect x="609.2" y="229" width="1" height="161"/><rect x="612.2" y="229" width="1" height="161"/><rect x="615.2" y="228" width="1" height="162"/><rect x="618.2" y="225" width="1" height="165"/><rect x="621.2" y="223" width="1" height="167"/><rect x="624.2" y="219" width="2" height="171"/><rect x="627.2" y="219" width="2" height="171"/><rect x="630.2" y="223" width="2" height="167"/><rect x="633.2" y="218" width="2" height="172"/><rect x="637.2" y="218" width="1" height="172"/><rect x="640.2" y="217" width="1" height="173"/><rect x="643.2" y="219" width="1" height="171"/><rect x="646.2" y="220" width="1" height="170"/><rect x="649.2" y="222" width="1" height="168"/><rect x="652.2" y="222" width="1" height="168"/><rect x="655.2" y="225" width="1" height="165"/><rect x="658.2" y="228" width="1" height="162"/><rect x="661.2" y="228" width="1" height="162"/><rect x="664.2" y="228" width="1" height="162"/><rect x="667.2" y="233" width="1" height="157"/><rect x="670.2" y="235" width="1" height="155"/><rect x="673.2" y="235" width="1" height="155"/><rect x="676.2" y="239" width="2" height="151"/><rect x="679.2" y="239" width="2" height="151"/><rect x="682.2" y="242" width="2" height="148"/><rect x="685.2" y="244" width="2" height="146"/><rect x="689.2" y="246" width="1" height="144"/><rect x="692.2" y="252" width="1" height="138"/><rect x="695.2" y="253" width="1" height="137"/><rect x="698.2" y="258" width="1" height="132"/><rect x="701.2" y="262" width="1" height="128"/><rect x="704.2" y="263" width="1" height="127"/><rect x="707.2" y="267" width="1" height="123"/><rect x="710.2" y="269" width="1" height="121"/><rect x="713.2" y="274" width="1" height="116"/><rect x="716.2" y="279" width="1" height="111"/><rect x="719.2" y="282" width="1" height="108"/><rect x="722.2" y="284" width="1" height="106"/><rect x="725.2" y="285" width="1" height="105"/><rect x="728.2" y="288" width="2" height="102"/><rect x="731.2" y="292" width="2" height="98"/><rect x="734.2" y="294" width="2" height="96"/><rect x="738.2" y="295" width="1" height="95"/><rect x="741.2" y="297" width="1" height="93"/><rect x="744.2" y="299" width="1" height="91"/><rect x="747.2" y="295" width="1" height="95"/><rect x="750.2" y="299" width="1" height="91"/><rect x="753.2" y="297" width="1" height="93"/><rect x="756.2" y="298" width="1" height="92"/><rect x="759.2" y="293" width="1" height="97"/><rect x="762.2" y="292" width="1" height="98"/><rect x="765.2" y="289" width="1" height="101"/><rect x="768.2" y="287" width="1" height="103"/><rect x="771.2" y="284" width="1" height="106"/><rect x="774.2" y="284" width="1" height="106"/><rect x="777.2" y="280" width="2" height="110"/><rect x="780.2" y="279" width="2" height="111"/><rect x="783.2" y="275" width="2" height="115"/><rect x="786.2" y="274" width="2" height="116"/><rect x="790.2" y="273" width="1" height="117"/><rect x="793.2" y="271" width="1" height="119"/><rect x="796.2" y="271" width="1" height="119"/><rect x="799.2" y="271" width="1" height="119"/><rect x="802.2" y="263" width="1" height="127"/><rect x="805.2" y="260" width="1" height="130"/><rect x="808.2" y="260" width="1" height="130"/><rect x="811.2" y="255" width="1" height="135"/><rect x="814.2" y="251" width="1" height="139"/><rect x="817.2" y="249" width="1" height="141"/><rect x="820.2" y="246" width="1" height="144"/><rect x="823.2" y="242" width="1" height="148"/><rect x="826.2" y="235" width="1" height="155"/><rect x="829.2" y="227" width="2" height="163"/><rect x="832.2" y="226" width="2" height="164"/><rect x="835.2" y="223" width="2" height="167"/><rect x="838.2" y="220" width="2" height="170"/><rect x="842.2" y="214" width="1" height="176"/><rect x="845.2" y="209" width="1" height="181"/><rect x="848.2" y="208" width="1" height="182"/><rect x="851.2" y="202" width="1" height="188"/><rect x="854.2" y="202" width="1" height="188"/><rect x="857.2" y="196" width="1" height="194"/><rect x="860.2" y="186" width="1" height="204"/><rect x="863.2" y="176" width="1" height="214"/><rect x="866.2" y="173" width="1" height="217"/><rect x="869.2" y="166" width="1" height="224"/><rect x="872.2" y="161" width="1" height="229"/><rect x="875.2" y="164" width="1" height="226"/><rect x="878.2" y="159" width="1" height="231"/><rect x="881.2" y="151" width="2" height="239"/><rect x="884.2" y="147" width="2" height="243"/><rect x="887.2" y="149" width="2" height="241"/><rect x="890.2" y="149" width="2" height="241"/><rect x="894.2" y="141" width="1" height="249"/><rect x="897.2" y="139" width="1" height="251"/><rect x="900.2" y="138" width="1" height="252"/><rect x="903.2" y="133" width="1" height="257"/><rect x="906.2" y="128" width="1" height="262"/><rect x="909.2" y="128" width="1" height="262"/><rect x="912.2" y="124" width="1" height="266"/><rect x="915.2" y="121" width="1" height="269"/><rect x="918.2" y="122" width="1" height="268"/><rect x="921.2" y="113" width="1" height="277"/><rect x="924.2" y="119" width="1" height="271"/><rect x="927.2" y="118" width="1" height="272"/><rect x="930.2" y="114" width="1" height="276"/><rect x="933.2" y="115" width="2" height="275"/><rect x="936.2" y="107" width="2" height="283"/><rect x="939.2" y="107" width="2" height="283"/><rect x="943.2" y="102" width="1" height="288"/><rect x="946.2" y="95" width="1" height="295"/><rect x="949.2" y="93" width="1" height="297"/><rect x="952.2" y="93" width="1" height="297"/><rect x="955.2" y="88" width="1" height="302"/><rect x="958.2" y="86" width="1" height="304"/><rect x="961.2" y="86" width="1" height="304"/><rect x="964.2" y="87" width="1" height="303"/><rect x="967.2" y="83" width="1" height="307"/></g>
<rect x="39" y="389.95" width="930.6" height="1" fill="#d9d9d9"/>
<path d="M40.9 321.3 L43.9 320.7 L47.0 320.1 L50.1 319.6 L53.1 319.2 L56.2 318.8 L59.2 318.3 L62.3 317.8 L65.4 317.3 L68.4 317.0 L71.5 316.6 L74.5 316.2 L77.6 314.2 L80.7 312.2 L83.7 310.1 L86.8 307.9 L89.8 305.8 L92.9 302.6 L96.0 299.5 L99.0 297.0 L102.1 295.1 L105.1 293.4 L108.2 291.6 L111.3 288.1 L114.3 284.5 L117.4 283.4 L120.4 282.1 L123.5 280.8 L126.6 279.0 L129.6 277.2 L132.7 276.6 L135.7 276.1 L138.8 275.0 L141.9 272.7 L144.9 270.4 L148.0 268.0 L151.0 265.7 L154.1 263.7 L157.2 261.7 L160.2 260.0 L163.3 258.3 L166.3 257.0 L169.4 255.9 L172.5 254.5 L175.5 253.0 L178.6 251.5 L181.6 251.3 L184.7 248.9 L187.8 246.1 L190.8 245.0 L193.9 244.0 L196.9 242.0 L200.0 240.6 L203.1 238.9 L206.1 238.1 L209.2 237.7 L212.2 235.4 L215.3 233.9 L218.4 232.3 L221.4 229.6 L224.5 224.2 L227.5 217.1 L230.6 210.7 L233.7 204.2 L236.7 195.7 L239.8 187.3 L242.8 180.2 L245.9 175.1 L249.0 171.6 L252.0 168.9 L255.1 165.7 L258.1 162.1 L261.2 158.8 L264.3 158.3 L267.3 158.7 L270.4 159.8 L273.4 160.2 L276.5 161.7 L279.6 165.7 L282.6 170.4 L285.7 174.1 L288.7 177.7 L291.8 180.3 L294.9 183.4 L297.9 185.8 L301.0 187.5 L304.0 188.5 L307.1 188.8 L310.2 187.5 L313.2 186.3 L316.3 185.7 L319.3 185.2 L322.4 184.5 L325.5 184.3 L328.5 184.3 L331.6 184.6 L334.6 185.4 L337.7 186.8 L340.8 189.1 L343.8 191.7 L346.9 194.9 L349.9 198.0 L353.0 200.6 L356.1 204.4 L359.1 207.3 L362.2 210.4 L365.2 213.5 L368.3 216.7 L371.4 219.9 L374.4 223.7 L377.5 227.6 L380.5 231.1 L383.6 234.6 L386.7 238.4 L389.7 242.3 L392.8 245.9 L395.8 249.3 L398.9 252.8 L402.0 256.4 L405.0 259.9 L408.1 263.5 L411.1 266.7 L414.2 269.8 L417.3 272.8 L420.3 275.9 L423.4 278.6 L426.4 281.2 L429.5 283.9 L432.6 286.8 L435.6 289.4 L438.7 291.8 L441.7 293.8 L444.8 295.0 L447.9 296.7 L450.9 298.6 L454.0 299.3 L457.0 299.6 L460.1 299.5 L463.2 298.9 L466.2 297.8 L469.3 296.7 L472.3 295.7 L475.4 294.9 L478.5 294.1 L481.5 293.1 L484.6 292.1 L487.6 291.2 L490.7 290.3 L493.8 289.4 L496.8 288.5 L499.9 287.6 L502.9 286.7 L506.0 285.7 L509.1 284.6 L512.1 283.7 L515.2 282.9 L518.2 282.2 L521.3 281.6 L524.4 281.5 L527.4 281.4 L530.5 281.6 L533.5 281.9 L536.6 282.5 L539.7 283.2 L542.7 284.0 L545.8 284.8 L548.8 285.3 L551.9 285.8 L555.0 286.2 L558.0 286.5 L561.1 285.0 L564.1 282.9 L567.2 280.9 L570.3 278.3 L573.3 274.3 L576.4 270.7 L579.4 267.2 L582.5 263.6 L585.6 260.5 L588.6 257.0 L591.7 253.9 L594.7 252.1 L597.8 250.4 L600.9 248.9 L603.9 247.2 L607.0 244.9 L610.0 240.9 L613.1 237.7 L616.2 235.3 L619.2 232.2 L622.3 228.5 L625.3 225.6 L628.4 223.8 L631.5 223.1 L634.5 221.7 L637.6 220.3 L640.6 219.2 L643.7 218.5 L646.8 218.4 L649.8 219.0 L652.9 219.5 L655.9 220.5 L659.0 221.8 L662.1 223.4 L665.1 224.8 L668.2 226.9 L671.2 228.9 L674.3 230.6 L677.4 232.4 L680.4 233.6 L683.5 235.0 L686.5 237.3 L689.6 239.6 L692.7 241.9 L695.7 244.2 L698.8 247.0 L701.8 249.8 L704.9 253.6 L708.0 257.4 L711.0 261.2 L714.1 264.9 L717.1 268.4 L720.2 271.9 L723.3 275.2 L726.3 278.4 L729.4 281.2 L732.4 283.8 L735.5 286.1 L738.6 288.3 L741.6 290.4 L744.7 292.5 L747.7 294.8 L750.8 296.0 L753.9 297.1 L756.9 297.9 L760.0 297.1 L763.0 295.7 L766.1 293.9 L769.2 292.0 L772.2 290.1 L775.3 287.7 L778.3 285.2 L781.4 282.9 L784.5 281.3 L787.5 279.4 L790.6 277.3 L793.6 275.8 L796.7 274.2 L799.8 273.1 L802.8 271.1 L805.9 268.4 L808.9 265.7 L812.0 262.7 L815.1 259.4 L818.1 256.1 L821.2 253.0 L824.2 249.6 L827.3 246.2 L830.4 242.6 L833.4 238.4 L836.5 234.7 L839.5 230.3 L842.6 225.4 L845.7 221.5 L848.7 217.8 L851.8 214.4 L854.8 211.0 L857.9 206.5 L861.0 201.7 L864.0 194.9 L867.1 188.6 L870.1 183.2 L873.2 177.9 L876.3 172.5 L879.3 167.7 L882.4 163.4 L885.4 160.0 L888.5 157.6 L891.6 154.7 L894.6 151.2 L897.7 147.6 L900.7 144.3 L903.8 142.2 L906.9 139.6 L909.9 136.5 L913.0 133.4 L916.0 130.4 L919.1 127.3 L922.2 124.7 L925.2 122.5 L928.3 120.6 L931.3 118.8 L934.4 117.6 L937.5 116.2 L940.5 114.4 L943.6 112.1 L946.6 109.1 L949.7 105.2 L952.8 100.8 L955.8 97.0 L958.9 94.4 L961.9 92.1 L965.0 89.8 L968.1 88.4" fill="none" stroke="#ed7d31" stroke-width="3.05" stroke-linejoin="round" stroke-linecap="round"/>
<path d="M163.3 264.7 L166.3 276.3 L169.4 273.7 L172.5 273.0 L175.5 271.3 L178.6 269.5 L181.6 267.8 L184.7 265.9 L187.8 264.1 L190.8 262.4 L193.9 260.8 L196.9 259.2 L200.0 257.6 L203.1 256.0 L206.1 254.4 L209.2 252.6 L212.2 250.8 L215.3 249.1 L218.4 247.4 L221.4 245.5 L224.5 243.3 L227.5 240.8 L230.6 238.0 L233.7 235.0 L236.7 231.9 L239.8 228.8 L242.8 225.5 L245.9 222.3 L249.0 219.2 L252.0 216.1 L255.1 213.0 L258.1 209.8 L261.2 206.5 L264.3 203.1 L267.3 200.0 L270.4 197.3 L273.4 194.9 L276.5 192.7 L279.6 190.5 L282.6 188.4 L285.7 186.4 L288.7 184.5 L291.8 182.7 L294.9 181.1 L297.9 179.7 L301.0 178.4 L304.0 177.4 L307.1 176.5 L310.2 175.9 L313.2 175.4 L316.3 175.2 L319.3 175.3 L322.4 175.5 L325.5 175.9 L328.5 176.6 L331.6 177.5 L334.6 178.5 L337.7 179.6 L340.8 181.0 L343.8 182.8 L346.9 184.6 L349.9 186.2 L353.0 187.6 L356.1 189.0 L359.1 190.6 L362.2 192.2 L365.2 193.8 L368.3 195.3 L371.4 196.7 L374.4 198.1 L377.5 199.5 L380.5 201.2 L383.6 203.1 L386.7 205.1 L389.7 207.4 L392.8 210.1 L395.8 213.2 L398.9 216.6 L402.0 219.9 L405.0 223.0 L408.1 226.0 L411.1 229.0 L414.2 232.0 L417.3 235.3 L420.3 238.6 L423.4 241.9 L426.4 245.1 L429.5 248.5 L432.6 251.9 L435.6 255.3 L438.7 258.3 L441.7 261.4 L444.8 264.4 L447.9 267.5 L450.9 270.3 L454.0 272.9 L457.0 275.3 L460.1 277.5 L463.2 279.6 L466.2 281.6 L469.3 283.5 L472.3 285.2 L475.4 286.8 L478.5 288.1 L481.5 289.3 L484.6 290.2 L487.6 291.0 L490.7 291.7 L493.8 292.1 L496.8 292.5 L499.9 292.7 L502.9 292.7 L506.0 292.6 L509.1 292.4 L512.1 292.0 L515.2 291.7 L518.2 291.3 L521.3 290.9 L524.4 290.4 L527.4 289.9 L530.5 289.2 L533.5 288.5 L536.6 287.9 L539.7 287.2 L542.7 286.7 L545.8 286.3 L548.8 286.1 L551.9 286.0 L555.0 285.8 L558.0 285.5 L561.1 284.9 L564.1 284.1 L567.2 283.3 L570.3 282.4 L573.3 281.5 L576.4 280.6 L579.4 279.5 L582.5 278.3 L585.6 277.1 L588.6 275.8 L591.7 274.4 L594.7 273.0 L597.8 271.5 L600.9 269.9 L603.9 268.2 L607.0 266.5 L610.0 264.8 L613.1 263.1 L616.2 261.4 L619.2 259.5 L622.3 257.5 L625.3 255.3 L628.4 253.1 L631.5 250.8 L634.5 248.5 L637.6 246.3 L640.6 244.2 L643.7 241.9 L646.8 239.6 L649.8 237.4 L652.9 235.3 L655.9 233.5 L659.0 231.9 L662.1 230.7 L665.1 229.8 L668.2 229.1 L671.2 228.7 L674.3 228.4 L677.4 228.1 L680.4 227.7 L683.5 227.4 L686.5 227.5 L689.6 227.9 L692.7 228.5 L695.7 229.3 L698.8 230.2 L701.8 231.4 L704.9 232.8 L708.0 234.4 L711.0 236.1 L714.1 237.9 L717.1 239.9 L720.2 242.1 L723.3 244.5 L726.3 247.0 L729.4 249.5 L732.4 252.0 L735.5 254.4 L738.6 256.7 L741.6 259.2 L744.7 261.8 L747.7 264.4 L750.8 266.9 L753.9 269.1 L756.9 271.3 L760.0 273.3 L763.0 275.4 L766.1 277.4 L769.2 279.3 L772.2 281.0 L775.3 282.3 L778.3 283.4 L781.4 284.3 L784.5 285.0 L787.5 285.5 L790.6 285.8 L793.6 285.9 L796.7 285.8 L799.8 285.4 L802.8 284.9 L805.9 284.1 L808.9 283.2 L812.0 282.1 L815.1 280.8 L818.1 279.2 L821.2 277.3 L824.2 275.1 L827.3 272.7 L830.4 270.5 L833.4 268.4 L836.5 266.3 L839.5 263.8 L842.6 260.8 L845.7 257.7 L848.7 254.5 L851.8 251.5 L854.8 248.7 L857.9 245.7 L861.0 242.5 L864.0 238.8 L867.1 234.7 L870.1 230.4 L873.2 226.0 L876.3 221.8 L879.3 217.7 L882.4 213.6 L885.4 209.7 L888.5 205.8 L891.6 201.9 L894.6 197.6 L897.7 193.1 L900.7 188.8 L903.8 184.6 L906.9 180.5 L909.9 176.5 L913.0 172.6 L916.0 168.8 L919.1 165.0 L922.2 161.3 L925.2 157.7 L928.3 154.1 L931.3 150.4 L934.4 146.7 L937.5 143.3 L940.5 140.0 L943.6 136.9 L946.6 133.9 L949.7 130.8 L952.8 127.9 L955.8 125.1 L958.9 122.4 L961.9 119.9 L965.0 117.6 L968.1 115.5" fill="none" stroke="#a5a5a5" stroke-width="3.05" stroke-linejoin="round" stroke-linecap="round"/>
<path d="M270.4 259.2 L273.4 257.3 L276.5 255.5 L279.6 253.6 L282.6 251.9 L285.7 250.2 L288.7 248.5 L291.8 246.8 L294.9 245.2 L297.9 243.7 L301.0 242.1 L304.0 240.6 L307.1 239.0 L310.2 237.5 L313.2 236.0 L316.3 234.5 L319.3 233.0 L322.4 231.6 L325.5 230.1 L328.5 228.7 L331.6 227.2 L334.6 225.7 L337.7 224.1 L340.8 222.6 L343.8 221.2 L346.9 219.9 L349.9 218.7 L353.0 217.7 L356.1 216.8 L359.1 216.0 L362.2 215.3 L365.2 214.8 L368.3 214.2 L371.4 213.7 L374.4 213.3 L377.5 212.9 L380.5 212.5 L383.6 212.2 L386.7 211.9 L389.7 211.7 L392.8 211.5 L395.8 211.3 L398.9 211.3 L402.0 211.2 L405.0 211.3 L408.1 211.4 L411.1 211.6 L414.2 211.8 L417.3 212.2 L420.3 212.6 L423.4 213.0 L426.4 213.6 L429.5 214.2 L432.6 214.8 L435.6 215.5 L438.7 216.2 L441.7 216.9 L444.8 217.6 L447.9 218.3 L450.9 219.1 L454.0 219.8 L457.0 220.5 L460.1 221.1 L463.2 221.8 L466.2 222.5 L469.3 223.3 L472.3 224.0 L475.4 224.8 L478.5 225.8 L481.5 226.7 L484.6 227.8 L487.6 229.0 L490.7 230.1 L493.8 231.4 L496.8 232.7 L499.9 234.0 L502.9 235.4 L506.0 236.8 L509.1 238.3 L512.1 239.8 L515.2 241.2 L518.2 242.7 L521.3 244.1 L524.4 245.5 L527.4 246.8 L530.5 248.1 L533.5 249.3 L536.6 250.5 L539.7 251.7 L542.7 252.9 L545.8 254.2 L548.8 255.4 L551.9 256.7 L555.0 258.0 L558.0 259.2 L561.1 260.3 L564.1 261.3 L567.2 262.4 L570.3 263.4 L573.3 264.5 L576.4 265.5 L579.4 266.5 L582.5 267.3 L585.6 268.1 L588.6 268.8 L591.7 269.3 L594.7 269.8 L597.8 270.3 L600.9 270.7 L603.9 271.0 L607.0 271.4 L610.0 271.6 L613.1 271.8 L616.2 272.0 L619.2 272.0 L622.3 272.1 L625.3 272.0 L628.4 271.9 L631.5 271.7 L634.5 271.5 L637.6 271.1 L640.6 270.8 L643.7 270.4 L646.8 270.0 L649.8 269.6 L652.9 269.2 L655.9 268.8 L659.0 268.3 L662.1 267.8 L665.1 267.3 L668.2 266.8 L671.2 266.3 L674.3 265.8 L677.4 265.2 L680.4 264.6 L683.5 264.0 L686.5 263.4 L689.6 262.8 L692.7 262.2 L695.7 261.6 L698.8 261.1 L701.8 260.6 L704.9 260.2 L708.0 259.8 L711.0 259.5 L714.1 259.3 L717.1 259.1 L720.2 259.0 L723.3 258.8 L726.3 258.6 L729.4 258.4 L732.4 258.3 L735.5 258.4 L738.6 258.6 L741.6 258.9 L744.7 259.1 L747.7 259.2 L750.8 259.3 L753.9 259.4 L756.9 259.5 L760.0 259.6 L763.0 259.9 L766.1 260.1 L769.2 260.3 L772.2 260.3 L775.3 260.3 L778.3 260.1 L781.4 259.9 L784.5 259.7 L787.5 259.6 L790.6 259.5 L793.6 259.4 L796.7 259.2 L799.8 259.0 L802.8 258.7 L805.9 258.3 L808.9 257.9 L812.0 257.5 L815.1 257.1 L818.1 256.7 L821.2 256.4 L824.2 256.0 L827.3 255.7 L830.4 255.4 L833.4 255.1 L836.5 254.8 L839.5 254.5 L842.6 254.1 L845.7 253.7 L848.7 253.2 L851.8 252.6 L854.8 251.9 L857.9 251.2 L861.0 250.4 L864.0 249.6 L867.1 248.8 L870.1 248.0 L873.2 247.1 L876.3 246.3 L879.3 245.5 L882.4 244.7 L885.4 243.8 L888.5 243.0 L891.6 242.1 L894.6 241.3 L897.7 240.3 L900.7 239.4 L903.8 238.5 L906.9 237.4 L909.9 236.2 L913.0 234.9 L916.0 233.6 L919.1 232.2 L922.2 230.9 L925.2 229.6 L928.3 228.3 L931.3 227.0 L934.4 225.7 L937.5 224.3 L940.5 222.8 L943.6 221.2 L946.6 219.5 L949.7 217.6 L952.8 215.7 L955.8 213.7 L958.9 211.6 L961.9 209.5 L965.0 207.4 L968.1 205.3" fill="none" stroke="#ffc000" stroke-width="3.05" stroke-linejoin="round" stroke-linecap="round"/>
<rect x="403" y="464.9" width="16" height="4.9" fill="#4472c4"/><path d="M449.4 467.4H466.6" stroke="#ed7d31" stroke-width="2.8" stroke-linecap="round" fill="none"/><path d="M496.4 467.4H513.6" stroke="#a5a5a5" stroke-width="2.8" stroke-linecap="round" fill="none"/><path d="M543.4 467.4H560.6" stroke="#ffc000" stroke-width="2.8" stroke-linecap="round" fill="none"/>
<g filter="url(#bl)">
<g font-size="7" fill="#505050" stroke="#505050" stroke-width="0.15" text-anchor="end"><text x="32.2" y="34.9">5000</text><text x="32.2" y="69.9">4500</text><text x="32.2" y="105.9">4000</text><text x="32.2" y="141.9">3500</text><text x="32.2" y="177.9">3000</text><text x="32.2" y="213.9">2500</text><text x="32.2" y="248.9">2000</text><text x="32.2" y="284.9">1500</text><text x="32.2" y="320.9">1000</text><text x="32.2" y="356.9">500</text><text x="32.2" y="392.9">0</text></g>
<g fill="#5a5a5a" font-size="7.7"><text y="404.55" x="37.30 46.21 55.39 64.57 73.75 83.24 92.11 101.56 110.47 119.65 128.83 138.01 147.50 156.37 165.82 174.73 183.91 193.09 202.27 211.76 220.63 230.08 238.99 248.17 257.35 266.53 276.02 284.89 294.34 303.25 312.43 321.61 330.79 340.28 349.15 358.60 367.51 376.69 385.87">日水土火金月木日水土火金月木日水土火金月木日水土火金月木日水土火金月木日水土火</text><text y="404.55" x="404.54 413.41 422.86 431.77 440.95 450.13 459.31 468.80 477.67 487.12 496.03 505.21 514.39 523.57 533.06 541.93 551.38 560.29 569.47 578.65 587.83 597.32 606.19 615.64 624.55 633.73 642.91 652.09 661.58 670.45 679.90 688.81 697.99 707.17 716.35 725.84 734.71 744.16 753.07 762.25 771.43 780.61 790.10 798.97 808.42 817.33 826.51 835.69 844.87 854.36 863.23 872.68 881.59 890.77 899.95 909.13 918.62 927.49 936.94 945.85 955.03 964.21">月木日水土火金月木日水土火金月木日水土火金月木日水土火金月木日水土火金月木日水土火金月木日水土火金月木日水土火金月木日水土火</text><text x="35.39" y="432.75">月</text><text x="37.30" y="445.35">日</text><text x="47.63" y="432.75">月</text><text x="49.54" y="445.35">日</text><text x="59.87" y="432.75">月</text><text x="61.78" y="445.35">日</text><text x="74.06" y="432.75">月</text><text x="74.02" y="455.35">日</text><text x="86.30" y="432.75">月</text><text x="86.26" y="455.35">日</text><text x="98.54" y="432.75">月</text><text x="98.50" y="455.35">日</text><text x="110.78" y="432.75">月</text><text x="110.74" y="455.35">日</text><text x="123.02" y="432.75">月</text><text x="122.98" y="455.35">日</text><text x="133.31" y="432.75">月</text><text x="135.22" y="445.35">日</text><text x="145.55" y="432.75">月</text><text x="147.46" y="445.35">日</text><text x="159.74" y="432.75">月</text><text x="159.70" y="455.35">日</text><text x="171.98" y="432.75">月</text><text x="171.94" y="455.35">日</text><text x="184.22" y="432.75">月</text><text x="184.18" y="455.35">日</text><text x="196.46" y="432.75">月</text><text x="196.42" y="455.35">日</text><text x="208.70" y="432.75">月</text><text x="208.66" y="455.35">日</text><text x="220.94" y="432.75">月</text><text x="220.90" y="455.35">日</text><text x="235.12" y="422.75">月</text><text x="235.09" y="435.35">日</text><text x="247.36" y="422.75">月</text><text x="247.33" y="435.35">日</text><text x="259.60" y="422.75">月</text><text x="257.62" y="445.35">日</text><text x="271.84" y="422.75">月</text><text x="269.86" y="445.35">日</text><text x="284.08" y="422.75">月</text><text x="282.10" y="445.35">日</text><text x="296.32" y="422.75">月</text><text x="294.34" y="445.35">日</text><text x="308.56" y="422.75">月</text><text x="306.58" y="445.35">日</text><text x="320.80" y="422.75">月</text><text x="320.77" y="435.35">日</text><text x="333.04" y="422.75">月</text><text x="333.01" y="435.35">日</text><text x="345.28" y="422.75">月</text><text x="345.25" y="435.35">日</text><text x="357.52" y="422.75">月</text><text x="355.54" y="445.35">日</text><text x="369.76" y="422.75">月</text><text x="367.78" y="445.35">日</text><text x="382.00" y="422.75">月</text><text x="380.02" y="445.35">日</text><text x="394.24" y="422.75">月</text><text x="392.26" y="445.35">日</text><text x="406.48" y="422.75">月</text><text x="406.45" y="435.35">日</text><text x="418.72" y="422.75">月</text><text x="418.69" y="435.35">日</text><text x="430.96" y="422.75">月</text><text x="430.93" y="435.35">日</text><text x="443.20" y="422.75">月</text><text x="441.22" y="445.35">日</text><text x="455.44" y="422.75">月</text><text x="453.46" y="445.35">日</text><text x="467.68" y="422.75">月</text><text x="465.70" y="445.35">日</text><text x="479.92" y="422.75">月</text><text x="477.94" y="445.35">日</text><text x="492.16" y="422.75">月</text><text x="490.18" y="445.35">日</text><text x="504.40" y="422.75">月</text><text x="504.37" y="435.35">日</text><text x="516.64" y="422.75">月</text><text x="516.61" y="435.35">日</text><text x="528.88" y="422.75">月</text><text x="526.90" y="445.35">日</text><text x="541.12" y="422.75">月</text><text x="539.14" y="445.35">日</text><text x="553.36" y="422.75">月</text><text x="551.38" y="445.35">日</text><text x="565.60" y="422.75">月</text><text x="563.62" y="445.35">日</text><text x="577.84" y="422.75">月</text><text x="575.86" y="445.35">日</text><text x="590.08" y="422.75">月</text><text x="588.10" y="445.35">日</text><text x="602.32" y="422.75">月</text><text x="602.29" y="435.35">日</text><text x="614.56" y="422.75">月</text><text x="614.53" y="435.35">日</text><text x="626.80" y="422.75">月</text><text x="624.82" y="445.35">日</text><text x="639.04" y="422.75">月</text><text x="637.06" y="445.35">日</text><text x="651.28" y="422.75">月</text><text x="649.30" y="445.35">日</text><text x="663.52" y="422.75">月</text><text x="661.54" y="445.35">日</text><text x="675.76" y="422.75">月</text><text x="673.78" y="445.35">日</text><text x="688.00" y="422.75">月</text><text x="687.97" y="435.35">日</text><text x="700.24" y="422.75">月</text><text x="700.21" y="435.35">日</text><text x="712.48" y="422.75">月</text><text x="712.45" y="435.35">日</text><text x="724.72" y="422.75">月</text><text x="722.74" y="445.35">日</text><text x="736.96" y="422.75">月</text><text x="734.98" y="445.35">日</text><text x="749.20" y="422.75">月</text><text x="747.22" y="445.35">日</text><text x="761.44" y="422.75">月</text><text x="759.46" y="445.35">日</text><text x="773.68" y="422.75">月</text><text x="771.70" y="445.35">日</text><text x="785.92" y="422.75">月</text><text x="785.89" y="435.35">日</text><text x="798.16" y="422.75">月</text><text x="798.13" y="435.35">日</text><text x="810.40" y="422.75">月</text><text x="808.42" y="445.35">日</text><text x="822.64" y="422.75">月</text><text x="820.66" y="445.35">日</text><text x="834.88" y="422.75">月</text><text x="832.90" y="445.35">日</text><text x="847.12" y="422.75">月</text><text x="845.14" y="445.35">日</text><text x="859.36" y="422.75">月</text><text x="857.38" y="445.35">日</text><text x="871.60" y="422.75">月</text><text x="869.62" y="445.35">日</text><text x="883.84" y="422.75">月</text><text x="883.81" y="435.35">日</text><text x="896.08" y="422.75">月</text><text x="896.05" y="435.35">日</text><text x="908.32" y="422.75">月</text><text x="906.34" y="445.35">日</text><text x="920.56" y="422.75">月</text><text x="918.58" y="445.35">日</text><text x="932.80" y="422.75">月</text><text x="930.82" y="445.35">日</text><text x="945.04" y="422.75">月</text><text x="943.06" y="445.35">日</text><text x="957.28" y="422.75">月</text><text x="955.30" y="445.35">日</text></g>
<g font-size="7.0" fill="#505050" stroke="#505050" stroke-width="0.2"><text x="398.90" y="403.3" text-anchor="middle" fill="#404040" font-size="7.6" textLength="6.9" lengthAdjust="spacingAndGlyphs">ha</text><text x="36.99" y="421.30">11</text><text x="42.78" y="432.90">1</text><text x="49.23" y="421.30">11</text><text x="55.02" y="432.90">5</text><text x="61.47" y="421.30">11</text><text x="67.26" y="432.90">9</text><text x="73.71" y="421.30">11</text><text x="73.71" y="443.90">13</text><text x="85.95" y="421.30">11</text><text x="85.95" y="443.90">17</text><text x="98.19" y="421.30">11</text><text x="98.19" y="443.90">21</text><text x="110.43" y="421.30">11</text><text x="110.43" y="443.90">25</text><text x="122.67" y="421.30">11</text><text x="122.67" y="443.90">29</text><text x="134.91" y="421.30">12</text><text x="140.70" y="432.90">3</text><text x="147.15" y="421.30">12</text><text x="152.94" y="432.90">7</text><text x="159.39" y="421.30">12</text><text x="159.39" y="443.90">11</text><text x="171.63" y="421.30">12</text><text x="171.63" y="443.90">15</text><text x="183.87" y="421.30">12</text><text x="183.87" y="443.90">19</text><text x="196.11" y="421.30">12</text><text x="196.11" y="443.90">23</text><text x="208.35" y="421.30">12</text><text x="208.35" y="443.90">27</text><text x="220.59" y="421.30">12</text><text x="220.59" y="443.90">31</text><text x="230.92" y="422.90">1</text><text x="230.92" y="435.50">4</text><text x="243.16" y="422.90">1</text><text x="243.16" y="435.50">8</text><text x="255.40" y="422.90">1</text><text x="257.31" y="433.90">12</text><text x="267.64" y="422.90">1</text><text x="269.55" y="433.90">16</text><text x="279.88" y="422.90">1</text><text x="281.79" y="433.90">20</text><text x="292.12" y="422.90">1</text><text x="294.03" y="433.90">24</text><text x="304.36" y="422.90">1</text><text x="306.27" y="433.90">28</text><text x="316.60" y="422.90">2</text><text x="316.60" y="435.50">1</text><text x="328.84" y="422.90">2</text><text x="328.84" y="435.50">5</text><text x="341.08" y="422.90">2</text><text x="341.08" y="435.50">9</text><text x="353.32" y="422.90">2</text><text x="355.23" y="433.90">13</text><text x="365.56" y="422.90">2</text><text x="367.47" y="433.90">17</text><text x="377.80" y="422.90">2</text><text x="379.71" y="433.90">21</text><text x="390.04" y="422.90">2</text><text x="391.95" y="433.90">25</text><text x="402.28" y="422.90">3</text><text x="402.28" y="435.50">1</text><text x="414.52" y="422.90">3</text><text x="414.52" y="435.50">5</text><text x="426.76" y="422.90">3</text><text x="426.76" y="435.50">9</text><text x="439.00" y="422.90">3</text><text x="440.91" y="433.90">13</text><text x="451.24" y="422.90">3</text><text x="453.15" y="433.90">17</text><text x="463.48" y="422.90">3</text><text x="465.39" y="433.90">21</text><text x="475.72" y="422.90">3</text><text x="477.63" y="433.90">25</text><text x="487.96" y="422.90">3</text><text x="489.87" y="433.90">29</text><text x="500.20" y="422.90">4</text><text x="500.20" y="435.50">2</text><text x="512.44" y="422.90">4</text><text x="512.44" y="435.50">6</text><text x="524.68" y="422.90">4</text><text x="526.59" y="433.90">10</text><text x="536.92" y="422.90">4</text><text x="538.83" y="433.90">14</text><text x="549.16" y="422.90">4</text><text x="551.07" y="433.90">18</text><text x="561.40" y="422.90">4</text><text x="563.31" y="433.90">22</text><text x="573.64" y="422.90">4</text><text x="575.55" y="433.90">26</text><text x="585.88" y="422.90">4</text><text x="587.79" y="433.90">30</text><text x="598.12" y="422.90">5</text><text x="598.12" y="435.50">4</text><text x="610.36" y="422.90">5</text><text x="610.36" y="435.50">8</text><text x="622.60" y="422.90">5</text><text x="624.51" y="433.90">12</text><text x="634.84" y="422.90">5</text><text x="636.75" y="433.90">16</text><text x="647.08" y="422.90">5</text><text x="648.99" y="433.90">20</text><text x="659.32" y="422.90">5</text><text x="661.23" y="433.90">24</text><text x="671.56" y="422.90">5</text><text x="673.47" y="433.90">28</text><text x="683.80" y="422.90">6</text><text x="683.80" y="435.50">1</text><text x="696.04" y="422.90">6</text><text x="696.04" y="435.50">5</text><text x="708.28" y="422.90">6</text><text x="708.28" y="435.50">9</text><text x="720.52" y="422.90">6</text><text x="722.43" y="433.90">13</text><text x="732.76" y="422.90">6</text><text x="734.67" y="433.90">17</text><text x="745.00" y="422.90">6</text><text x="746.91" y="433.90">21</text><text x="757.24" y="422.90">6</text><text x="759.15" y="433.90">25</text><text x="769.48" y="422.90">6</text><text x="771.39" y="433.90">29</text><text x="781.72" y="422.90">7</text><text x="781.72" y="435.50">3</text><text x="793.96" y="422.90">7</text><text x="793.96" y="435.50">7</text><text x="806.20" y="422.90">7</text><text x="808.11" y="433.90">11</text><text x="818.44" y="422.90">7</text><text x="820.35" y="433.90">15</text><text x="830.68" y="422.90">7</text><text x="832.59" y="433.90">19</text><text x="842.92" y="422.90">7</text><text x="844.83" y="433.90">23</text><text x="855.16" y="422.90">7</text><text x="857.07" y="433.90">27</text><text x="867.40" y="422.90">7</text><text x="869.31" y="433.90">31</text><text x="879.64" y="422.90">8</text><text x="879.64" y="435.50">4</text><text x="891.88" y="422.90">8</text><text x="891.88" y="435.50">8</text><text x="904.12" y="422.90">8</text><text x="906.03" y="433.90">12</text><text x="916.36" y="422.90">8</text><text x="918.27" y="433.90">16</text><text x="928.60" y="422.90">8</text><text x="930.51" y="433.90">20</text><text x="940.84" y="422.90">8</text><text x="942.75" y="433.90">24</text><text x="953.08" y="422.90">8</text><text x="954.99" y="433.90">28</text></g>
<g fill="#595959" font-size="12.7"><text y="24.25" x="447.52 459.57 471.62 483.68 495.73 507.78 519.83">東京都入院者数</text></g>
<g fill="#595959" font-size="7.7"><text y="470.20" x="421.50 429.20">系列</text></g>
<g fill="#595959" font-size="7.7"><text y="470.20" x="468.60 476.30">系列</text></g>
<g fill="#595959" font-size="7.7"><text y="470.20" x="515.00 522.70">系列</text></g>
<g fill="#595959" font-size="7.7"><text y="470.20" x="561.90 569.60">系列</text></g>
<g font-size="7" fill="#595959"><text x="436.90" y="470.1">1</text><text x="484.00" y="470.1">2</text><text x="530.40" y="470.1">3</text><text x="577.30" y="470.1">4</text></g>
</g>
</svg>
</body></html>
